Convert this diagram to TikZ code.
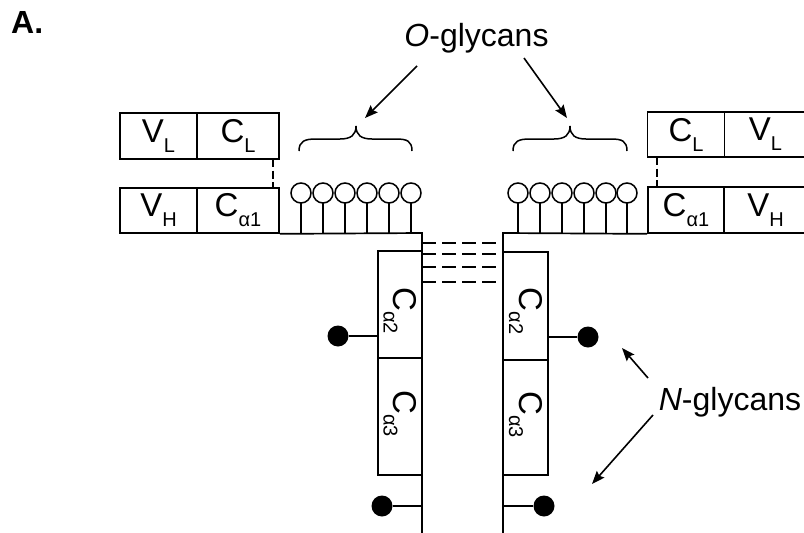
\documentclass[tikz,border=0pt]{standalone}
\usepackage{fontspec}
\setmainfont{Liberation Sans}
\usetikzlibrary{arrows.meta,calc}
\newcommand\subtx[1]{\raisebox{-10pt}{\fontsize{20}{20}\selectfont #1}}
\newcommand\labfont{\fontsize{33}{33}\selectfont}
\begin{document}
\begin{tikzpicture}[x=1pt,y=-1pt,
  ln/.style={line width=1.7pt, line cap=butt},
  cell/.style={draw, line width=1.7pt, inner sep=0pt, font=\labfont},
  lolli/.style={draw, line width=1.5pt, circle, inner sep=0pt, minimum size=20pt, fill=white},
  dot/.style={fill=black, circle, inner sep=0pt, minimum size=21pt},
  bond/.style={line width=1.7pt, dash pattern=on 14pt off 6pt},
  ss/.style={line width=1.7pt, dash pattern=on 8pt off 3.5pt},
  arr/.style={line width=1.6pt, -{Stealth[length=13pt, width=10pt, inset=2pt]}},
  lbl/.style={font=\fontsize{32}{32}\selectfont, inner sep=0pt, anchor=base}
]
\useasboundingbox (0,0) rectangle (804,533);
\fill[white] (0,0) rectangle (804,533);

% left Fab
\node[cell, minimum width=77pt, minimum height=46pt] (VLl) at (158.5,136) {V\subtx{L}};
\node[cell, minimum width=82pt, minimum height=46pt] (CLl) at (238,136) {C\subtx{L}};
\node[cell, minimum width=77pt, minimum height=45pt] (VHl) at (158.5,210.5) {V\subtx{H}};
\node[cell, minimum width=82pt, minimum height=45pt] (CA1l) at (238,210.5) {C\subtx{α1}};
% right Fab
\node[cell, minimum width=77pt, minimum height=45pt] (CLr) at (686,134.5) {C\subtx{L}};
\node[cell, minimum width=82pt, minimum height=45pt] (VLr) at (765.5,134.5) {V\subtx{L}};
\node[cell, minimum width=76pt, minimum height=46pt] (CA1r) at (686,210) {C\subtx{α1}};
\node[cell, minimum width=83pt, minimum height=46pt] (VHr) at (765.5,210) {V\subtx{H}};

% light-heavy disulfides
\coordinate (ssl) at (273,159);
\coordinate (ssr) at (657,157);
\draw[ss] (ssl) -- (ssl |- CA1l.north);
\draw[ss] (ssr) -- (ssr |- CA1r.north);

% hinge / heavy chain backbones
\coordinate (hl) at (422,233);
\coordinate (hr) at (503,233);
\coordinate (bl) at (422,533);
\coordinate (br) at (503,533);
\draw[ln] (CA1l.south east) -- (hl) -- (bl);
\draw[ln] (CA1r.south west) -- (hr) -- (br);

% inter-heavy disulfides
\foreach \y in {243,254,267,282}{
  \draw[bond] (422,\y) -- (503,\y);
}

% Fc domains
\node[cell, minimum width=107pt, minimum height=44pt, rotate=-90] (CA2l) at (400,304.5) {};
\node[cell, minimum width=117pt, minimum height=44pt, rotate=-90] (CA3l) at (400,416.5) {};
\node[cell, minimum width=108pt, minimum height=45pt, rotate=-90] (CA2r) at (525.5,306) {};
\node[cell, minimum width=115pt, minimum height=45pt, rotate=-90] (CA3r) at (525.5,417.5) {};
\node[font=\labfont, rotate=-90, inner sep=0pt] (t2l) at ($(CA2l.center)+(0,6)$) {C\subtx{α2}};
\node[font=\labfont, rotate=-90, inner sep=0pt] (t3l) at ($(CA3l.center)+(0,-3)$) {C\subtx{α3}};
\node[font=\labfont, rotate=-90, inner sep=0pt] (t2r) at ($(CA2r.center)+(0,5)$) {C\subtx{α2}};
\node[font=\labfont, rotate=-90, inner sep=0pt] (t3r) at ($(CA3r.center)+(0,-3)$) {C\subtx{α3}};

% O-glycans lollipops
\foreach \x [count=\i] in {301,323,345,367,389,411}{
  \draw[ln, line width=1.5pt] (\x,233) -- (\x,203);
  \node[lolli] (ol\i) at (\x,193) {};
}
\foreach \x [count=\i] in {518,540,562,584,606,627}{
  \draw[ln, line width=1.5pt] (\x,233) -- (\x,203);
  \node[lolli] (or\i) at (\x,193) {};
}

% N-glycans
\node[dot] (n1) at (338,336) {};
\node[dot] (n2) at (588,337) {};
\node[dot] (n3) at (382,506) {};
\node[dot] (n4) at (544,506) {};
\draw[ln] (n1) -- (n1 -| CA2l.south);
\draw[ln] (n2) -- (n2 -| CA2r.north);
\draw[ln] (n3) -- (n3 -| hl);
\draw[ln] (n4) -- (n4 -| hr);

% braces
\draw[line width=1.5pt] (299,151) .. controls (299,141) and (305,139) .. (316,139) -- (340,139)
   .. controls (351,139) and (356,135) .. (356,126) .. controls (356,135) and (361,139) .. (372,139)
   -- (396,139) .. controls (407,139) and (412,141) .. (412,151);
\draw[line width=1.5pt] (513,151) .. controls (513,141) and (519,139) .. (530,139) -- (554,139)
   .. controls (565,139) and (570,135) .. (570,126) .. controls (570,135) and (575,139) .. (586,139)
   -- (611,139) .. controls (622,139) and (627,141) .. (627,151);

% labels
\node[font=\bfseries\fontsize{32}{32}\selectfont, inner sep=0pt, anchor=base west] (A) at (11,33) {A.};
\node[lbl] (og) at (476.5,46) {\textit{O}-glycans};
\node[lbl] (ng) at (730,410) {\textit{N}-glycans};

\coordinate (oa1) at (417,66);
\coordinate (ob1) at (365,118);
\coordinate (oa2) at (524,58);
\coordinate (ob2) at (567,118);
\coordinate (na1) at (648,378);
\coordinate (nb1) at (622,348);
\coordinate (na2) at (653,415);
\coordinate (nb2) at (592,484);
\draw[arr] (oa1) -- (ob1);
\draw[arr] (oa2) -- (ob2);
\draw[arr] (na1) -- (nb1);
\draw[arr] (na2) -- (nb2);
\end{tikzpicture}
\end{document}
